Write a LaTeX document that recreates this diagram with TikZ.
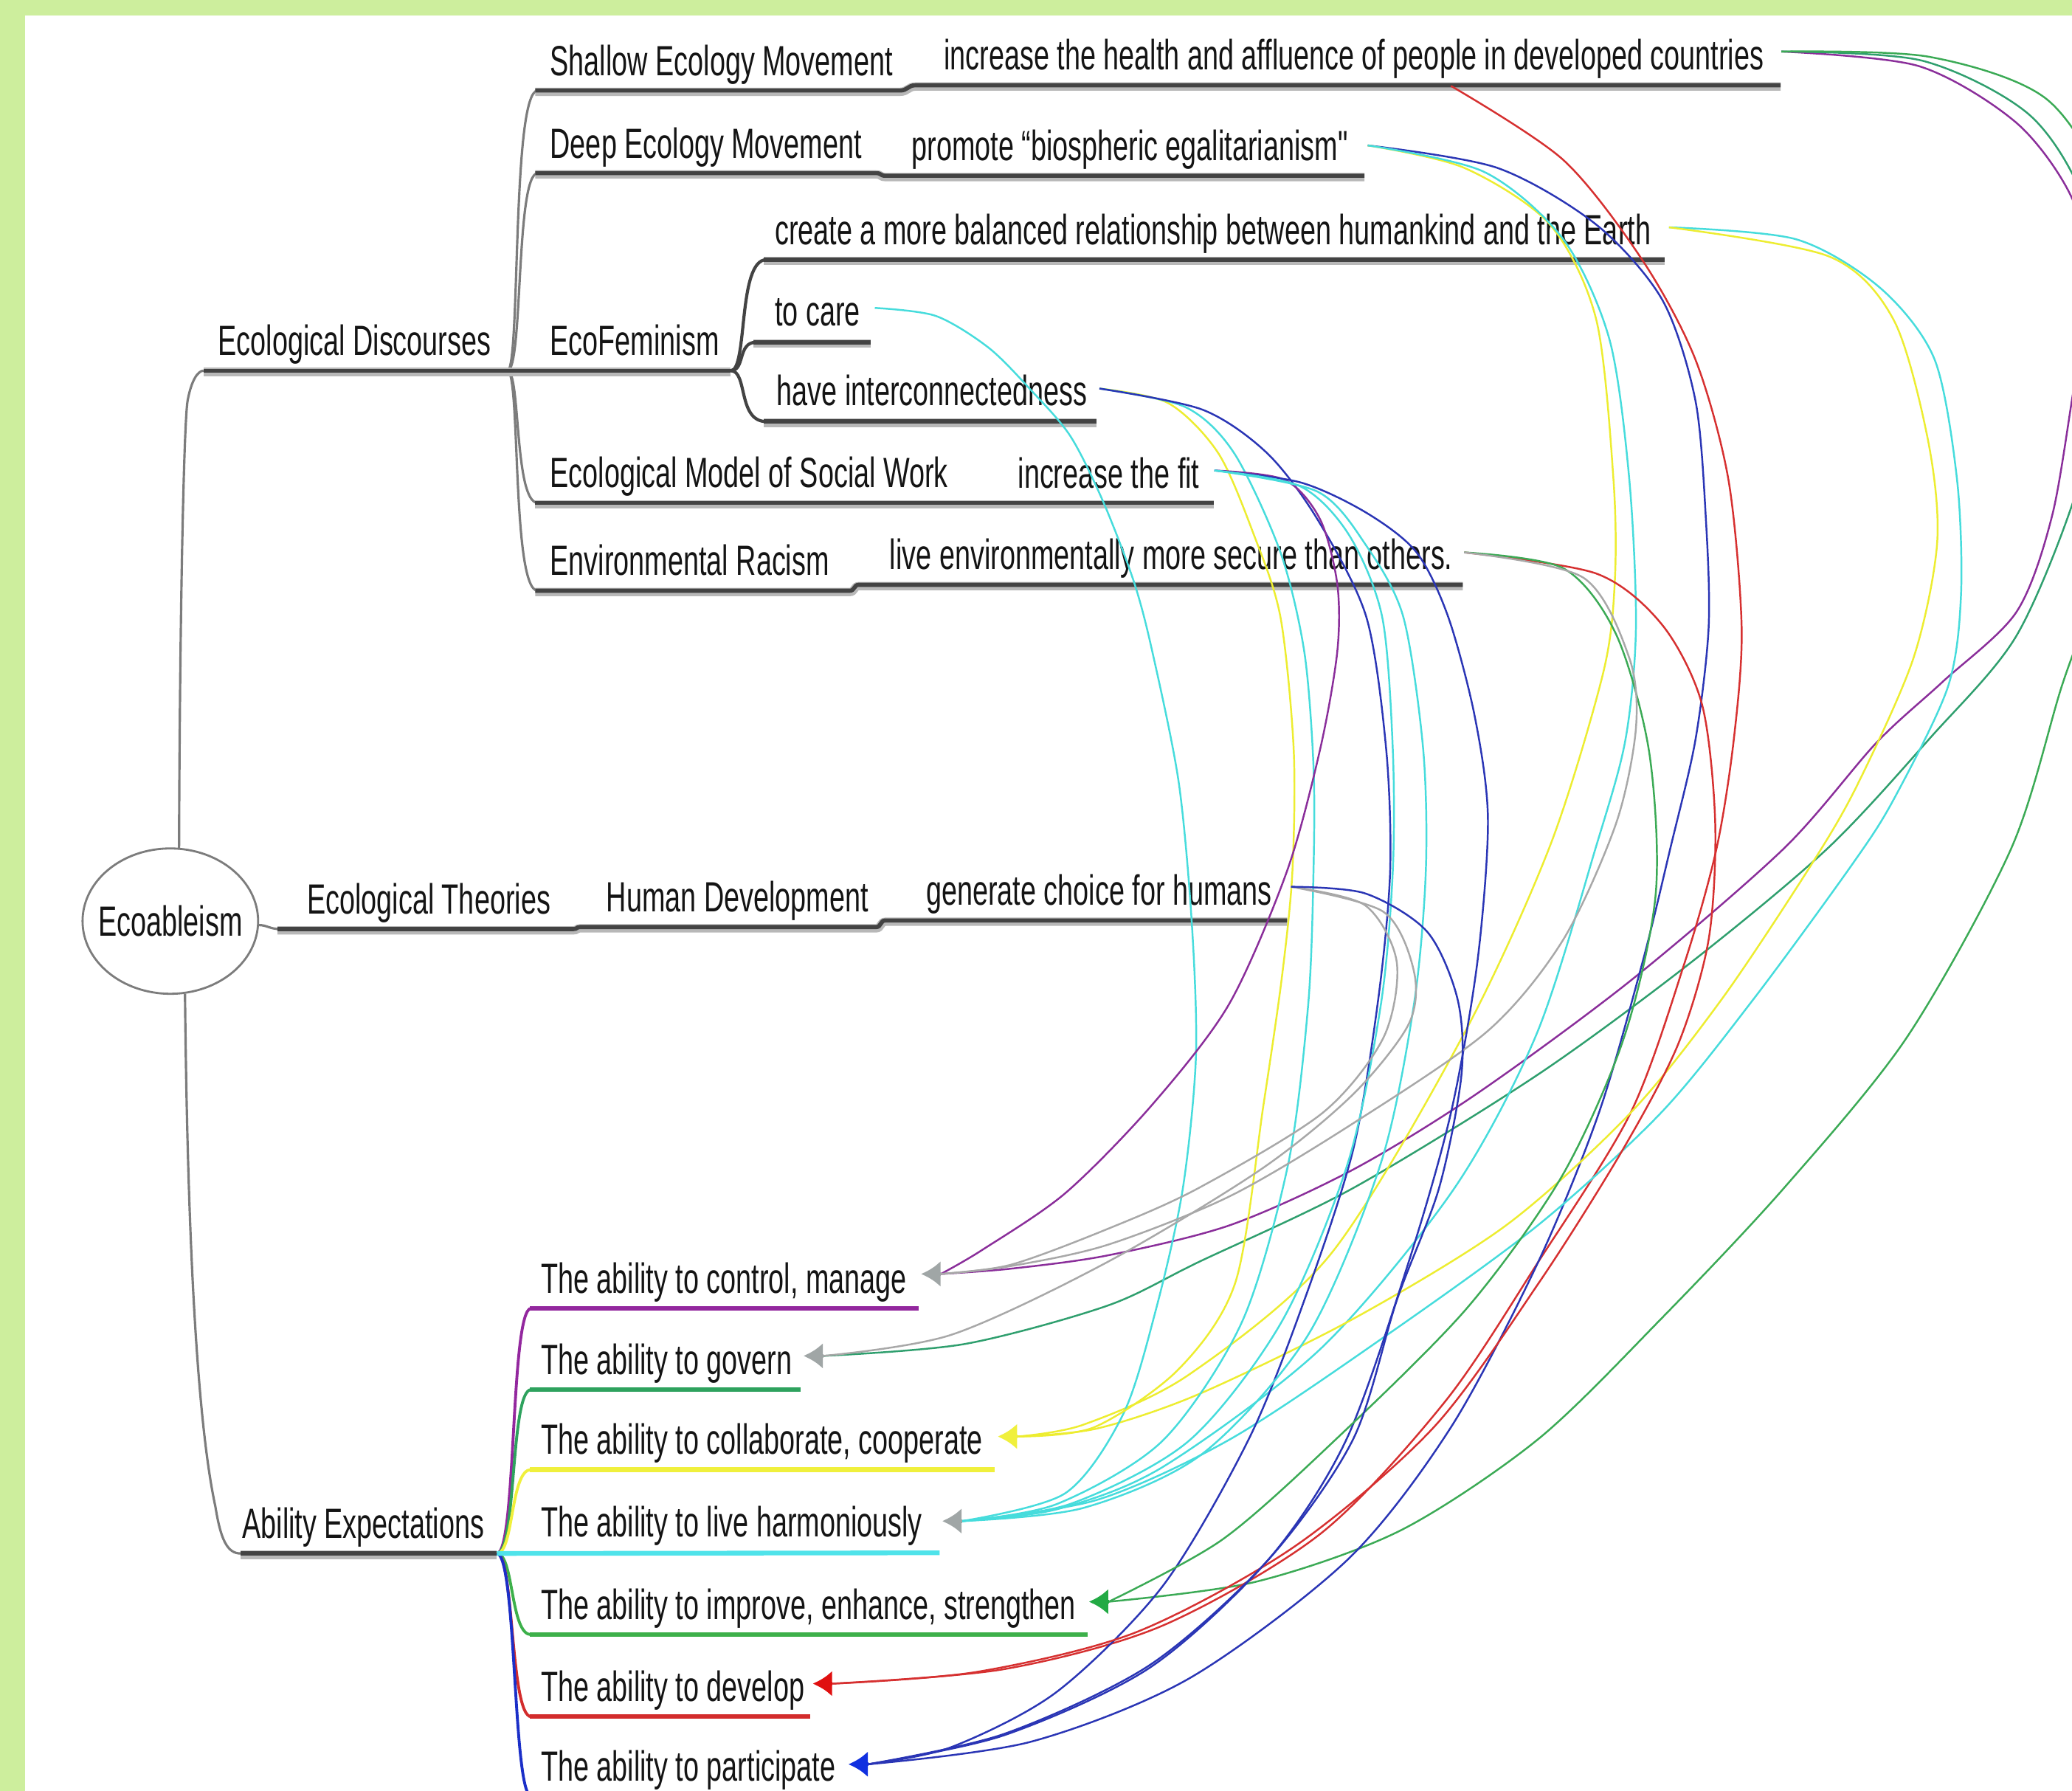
\documentclass[tikz,border=0pt]{standalone}
\usepackage{fontspec}
\setmainfont{Liberation Sans}[FakeStretch=0.66, Ligatures=TeXOff]
\usetikzlibrary{arrows.meta,shapes.geometric}
\definecolor{bggreen}{HTML}{CDEE9D}
\definecolor{ulDark}{HTML}{434343}
\definecolor{connGray}{HTML}{7C7C7C}
\definecolor{cPurple}{HTML}{93279E}
\definecolor{cGovG}{HTML}{2EA25E}
\definecolor{cYellow}{HTML}{F0F03C}
\definecolor{cCyan}{HTML}{4FE3EA}
\definecolor{cImpG}{HTML}{3DB04A}
\definecolor{cRed}{HTML}{D32C2C}
\definecolor{cBlue}{HTML}{1B2FC8}
\definecolor{rPurple}{HTML}{8A2E9A}
\definecolor{rGreenA}{HTML}{2F9F6E}
\definecolor{rGreenB}{HTML}{3BAA55}
\definecolor{rRed}{HTML}{D63030}
\definecolor{rBlue}{HTML}{2A35B5}
\definecolor{rCyan}{HTML}{46DCDC}
\definecolor{rYellow}{HTML}{EDED30}
\definecolor{rGray}{HTML}{A8A8A8}
\definecolor{tipGray}{HTML}{A0A6A6}
\definecolor{tipGreen}{HTML}{22AA44}
\definecolor{tipRed}{HTML}{E01010}
\definecolor{tipBlue}{HTML}{1030E0}
\begin{document}
\begin{tikzpicture}[x=0.0179082cm,y=-0.0179082cm,
  lbl/.style={anchor=base west, inner sep=0pt, font=\fontsize{16.3}{19}\selectfont, text=black!92},
  conn/.style={draw=connGray, line width=0.9pt},
  brace/.style={draw=ulDark, line width=1.2pt},
  uline/.style={draw=ulDark, line width=1.6pt, preaction={draw=black!28, line width=3.2pt, transform canvas={yshift=-0.5pt}}},
  cline/.style={line width=1.8pt},
  fan/.style={line width=1.1pt},
  rel/.style={line width=0.7pt, smooth, tension=0.5},
  tipA/.style={-{Latex[length=7.5pt,width=10pt]}, line width=1.5pt}]
\useasboundingbox (0,0) rectangle (1568,1355);
\clip (0,0) rectangle (1568,1355);
\fill[white] (0,0) rectangle (1568,1355);
\fill[bggreen] (0,0) rectangle (1568,12);
\fill[bggreen] (0,0) rectangle (19,1355);

% ---------- central node ----------
\node[ellipse, draw=connGray, line width=0.8pt, fill=white, minimum width=2.38cm, minimum height=1.97cm, inner sep=0pt] (nEco) at (128.9,697) {};
\node[inner sep=0pt, font=\fontsize{16.3}{19}\selectfont, text=black!92] (nEcoTxt) at (nEco.center) {Ecoableism};

% ---------- tree coordinates ----------
\coordinate (ecoTop) at (135.5,642);
\coordinate (ecoBot) at (140,752);
\coordinate (ecoRight) at (196,700);
\coordinate (edL) at (154,280.5);
\coordinate (edR) at (384,280.5);
\coordinate (efR) at (553,280.5);
\coordinate (aeL) at (182,1175.5);
\coordinate (aeR) at (376,1175.5);

% ---------- tree connectors ----------
\draw[conn] (ecoTop) .. controls (136,475) and (139,320) .. (142,303) .. controls (145,287) and (150,280.5) .. (edL);
\draw[conn] (ecoBot) .. controls (142,950) and (150,1080) .. (163,1140) .. controls (167,1165) and (172,1175.5) .. (aeL);
\draw[conn] (ecoRight) .. controls (202,700) and (204,703) .. (212,703);
% fan of Ecological Discourses
\draw[conn] (edR) .. controls (394,280.5) and (387,68.5) .. (407,68.5);
\draw[conn] (edR) .. controls (396,280.5) and (390,131) .. (407,131);
\draw[conn] (edR) .. controls (394,280.5) and (389,380.5) .. (407,380.5);
\draw[conn] (edR) .. controls (394,280.5) and (387,447) .. (407,447);
% brace of EcoFeminism
\draw[brace] (efR) .. controls (566,280.5) and (558,196.5) .. (580,196.5);
\draw[brace] (efR) .. controls (564,280.5) and (558,259) .. (572,259);
\draw[brace] (efR) .. controls (566,280.5) and (558,319) .. (580,319);

% ---------- underlines ----------
\draw[uline] (edL) -- (efR);
\draw[uline] (405,68.5) -- (681,68.5) .. controls (687,68.5) and (687,64.5) .. (693,64.5) -- (1347.5,64.5);
\draw[uline] (405,131) -- (663,131) .. controls (667,131) and (666,133) .. (670,133) -- (1032.5,133);
\draw[uline] (405,380.5) -- (918.5,380.5);
\draw[uline] (405,447) -- (643,447) .. controls (647,447) and (646,442.5) .. (650,442.5) -- (1107,442.5);
\draw[uline] (578,196.5) -- (1260,196.5);
\draw[uline] (570,259) -- (659,259);
\draw[uline] (578,319) -- (830,319);
\draw[uline] (210,703) -- (434,703) .. controls (437,703) and (436,701.5) .. (439,701.5) -- (663,701.5) .. controls (667,701.5) and (666,696.5) .. (670,696.5) -- (974,696.5);
\draw[uline] (aeL) -- (aeR);

% ---------- labels ----------
\node[lbl] (nED) at (164.7,269) {Ecological Discourses};
\node[lbl] (nSEM) at (416,57) {Shallow Ecology Movement};
\node[lbl] (nDEM) at (416,119.5) {Deep Ecology Movement};
\node[lbl] (nEF) at (416,269) {EcoFeminism};
\node[lbl] (nEMSW) at (416,369) {Ecological Model of Social Work};
\node[lbl] (nER) at (416,435.5) {Environmental Racism};
\node[lbl] (nHealth) at (714,53) {increase the health and affluence of people in developed countries};
\node[lbl] (nPromote) at (689.5,121.5) {promote “biospheric egalitarianism"};
\node[lbl] (nCreate) at (586,185) {create a more balanced relationship between humankind and the Earth};
\node[lbl] (nCare) at (586,246.5) {to care};
\node[lbl] (nInter) at (587.5,307) {have interconnectedness};
\node[lbl] (nFit) at (770,369.5) {increase the fit};
\node[lbl] (nEnv) at (673,431) {live environmentally more secure than others.};
\node[lbl] (nET) at (232,691.5) {Ecological Theories};
\node[lbl] (nHD) at (458.6,690) {Human Development};
\node[lbl] (nGen) at (700.5,685) {generate choice for humans};
\node[lbl] (nAE) at (183,1164) {Ability Expectations};
\node[lbl] (nCtl) at (409,978.5) {The ability to control, manage};
\node[lbl] (nGov) at (409,1040) {The ability to govern};
\node[lbl] (nCol) at (409,1100.5) {The ability to collaborate, cooperate};
\node[lbl] (nHar) at (409,1163) {The ability to live harmoniously};
\node[lbl] (nImp) at (409,1225.5) {The ability to improve, enhance, strengthen};
\node[lbl] (nDev) at (409,1287.5) {The ability to develop};
\node[lbl] (nPar) at (409,1347.5) {The ability to participate};

% ---------- ability fan and coloured underlines ----------
\draw[fan, cPurple] (aeR) .. controls (391,1175.5) and (386,990) .. (402,990);
\draw[fan, cGovG] (aeR) .. controls (391,1175.5) and (386,1051.5) .. (402,1051.5);
\draw[fan, cYellow] (aeR) .. controls (389,1175.5) and (386,1112) .. (402,1112);
\draw[fan, cImpG] (aeR) .. controls (389,1175.5) and (386,1237) .. (402,1237);
\draw[fan, cRed] (aeR) .. controls (389,1175.5) and (386,1299) .. (402,1299);
\draw[fan, cBlue] (aeR) .. controls (391,1175.5) and (388,1359) .. (402,1359);
\draw[cline, cPurple] (401,990) -- (695,990);
\draw[cline, cGovG] (401,1051.5) -- (606,1051.5);
\draw[cline, cYellow] (401,1112) -- (753,1112);
\draw[cline, cCyan] (aeR) -- (711,1175);
\draw[cline, cImpG] (401,1237) -- (823,1237);
\draw[cline, cRed] (401,1299) -- (613,1299);
\draw[cline, cBlue] (401,1359) -- (640,1359);

% ---------- relationship end points ----------
\coordinate (sHealth) at (1348,39);
\coordinate (sHealthU) at (1098,65);
\coordinate (sPromote) at (1035,110);
\coordinate (sCreate) at (1263,172);
\coordinate (sCare) at (662,233);
\coordinate (sInter) at (832,294);
\coordinate (sFit) at (919,356);
\coordinate (sEnv) at (1108,418);
\coordinate (sGen) at (977,671);
\coordinate (tCtl) at (697,964);   \coordinate (bCtl) at (712,964);
\coordinate (tGov) at (608,1026);  \coordinate (bGov) at (623,1026);
\coordinate (tCol) at (755,1087);  \coordinate (bCol) at (770,1087);
\coordinate (tHar) at (713,1151);  \coordinate (bHar) at (728,1151);
\coordinate (tImp) at (824,1212);  \coordinate (bImp) at (839,1212);
\coordinate (tDev) at (615,1274);  \coordinate (bDev) at (630,1274);
\coordinate (tPar) at (642,1335);  \coordinate (bPar) at (657,1335);

% ---------- relationships ----------
% from "increase the health ..."
\draw[rel, rPurple] plot coordinates {(sHealth) (1452,50) (1526,93) (1568,150) (1583,218) (1570,290) (1553,390) (1526,463) (1470,516) (1420,562) (1350,642) (1234,742) (1117,828) (1024,885) (931,927) (838,950) (765,960) (bCtl)};
\draw[rel, rGreenA] plot coordinates {(sHealth) (1455,46) (1537,88) (1580,160) (1592,270) (1572,370) (1526,481) (1461,558) (1383,642) (1280,728) (1164,813) (1024,899) (907,955) (838,988) (730,1017) (bGov)};
\draw[rel, rGreenB] plot coordinates {(sHealth) (1460,43) (1550,76) (1598,160) (1610,300) (1590,430) (1560,520) (1522,642) (1443,785) (1350,899) (1257,998) (1164,1089) (1060,1158) (950,1197) (bImp)};
\draw[rel, rRed] plot coordinates {(sHealthU) (1183,121) (1243,197) (1283,272) (1308,363) (1318,475) (1312,560) (1299,642) (1275,728) (1234,842) (1164,955) (1094,1060) (1000,1160) (880,1230) (760,1263) (bDev)};
% from "promote ..."
\draw[rel, rBlue] plot coordinates {(sPromote) (1133,127) (1208,170) (1258,227) (1283,303) (1291,394) (1293,475) (1283,560) (1264,642) (1243,728) (1210,842) (1164,955) (1098,1080) (1020,1180) (900,1270) (780,1318) (bPar)};
\draw[rel, rYellow] plot coordinates {(sPromote) (1108,127) (1173,170) (1208,242) (1221,363) (1222,440) (1213,510) (1173,640) (1108,782) (1007,949) (900,1040) (820,1078) (bCol)};
\draw[rel, rCyan] plot coordinates {(sPromote) (1123,130) (1183,181) (1218,257) (1233,363) (1238,475) (1230,560) (1208,640) (1163,782) (1100,900) (1000,1020) (880,1110) (800,1142) (bHar)};
% from "create a more balanced ..."
\draw[rel, rCyan] plot coordinates {(sCreate) (1359,181) (1423,218) (1464,272) (1481,363) (1484,450) (1474,520) (1433,605) (1401,655) (1327,756) (1257,842) (1164,927) (1047,1012) (931,1089) (830,1135) (bHar)};
\draw[rel, rYellow] plot coordinates {(sCreate) (1384,194) (1433,242) (1459,333) (1466,410) (1448,498) (1405,595) (1369,657) (1303,756) (1234,842) (1140,927) (1024,998) (907,1055) (830,1081) (bCol)};
% from "to care"
\draw[rel, rCyan] plot coordinates {(sCare) (708,239) (748,263) (780,295) (810,330) (835,380) (858,440) (872,493) (892,592) (902,700) (905,800) (895,900) (875,990) (850,1070) (806,1130) (bHar)};
% from "have interconnectedness"
\draw[rel, rYellow] plot coordinates {(sInter) (884,305) (922,343) (949,405) (969,467) (979,567) (978,660) (970,740) (956,837) (935,970) (892,1036) (828,1080) (bCol)};
\draw[rel, rCyan] plot coordinates {(sInter) (897,308) (934,343) (969,418) (987,493) (994,580) (994,659) (990,760) (975,880) (940,1000) (880,1090) (800,1138) (bHar)};
\draw[rel, rBlue] plot coordinates {(sInter) (910,310) (959,343) (997,393) (1034,467) (1049,567) (1052,659) (1043,756) (1024,870) (987,984) (945,1089) (880,1200) (800,1280) (720,1322) (bPar)};
% from "increase the fit"
\draw[rel, rPurple] plot coordinates {(sFit) (972,363) (999,393) (1012,442) (1012,493) (999,567) (974,659) (930,760) (871,837) (806,903) (743,946) (bCtl)};
\draw[rel, rBlue] plot coordinates {(sFit) (984,365) (1034,388) (1072,418) (1096,467) (1116,542) (1126,620) (1118,728) (1098,842) (1066,955) (1019,1089) (960,1180) (870,1262) (760,1313) (bPar)};
\draw[rel, rCyan] plot coordinates {(sFit) (984,368) (1021,405) (1046,467) (1054,567) (1054,659) (1045,760) (1020,880) (970,1000) (900,1090) (810,1138) (bHar)};
\draw[rel, rCyan] plot coordinates {(sFit) (997,372) (1034,413) (1062,467) (1077,567) (1079,659) (1070,760) (1045,880) (990,1010) (910,1100) (820,1141) (bHar)};
% from "live environmentally ..."
\draw[rel, rRed] plot coordinates {(sEnv) (1208,434) (1258,473) (1288,533) (1298,623) (1293,711) (1270,790) (1228,870) (1165,970) (1085,1080) (980,1170) (860,1235) (740,1265) (bDev)};
\draw[rel, rGreenB] plot coordinates {(sEnv) (1183,430) (1223,480) (1248,569) (1253,676) (1229,785) (1182,890) (1110,990) (1010,1090) (925,1165) (bImp)};
\draw[rel, rGray] plot coordinates {(sEnv) (1198,437) (1233,498) (1238,551) (1223,623) (1183,711) (1126,780) (1024,850) (931,905) (838,942) (765,958) (bCtl)};
% from "generate choice for humans"
\draw[rel, rGray] plot coordinates {(sGen) (1033,685) (1057,728) (1047,785) (1001,842) (907,899) (838,930) (765,957) (bCtl)};
\draw[rel, rGray] plot coordinates {(sGen) (1047,690) (1070,735) (1066,775) (1024,828) (954,885) (838,955) (720,1010) (bGov)};
\draw[rel, rBlue] plot coordinates {(sGen) (1033,676) (1080,705) (1103,756) (1106,813) (1089,899) (1057,984) (1024,1089) (960,1180) (870,1260) (760,1312) (bPar)};

% ---------- arrow heads ----------
\draw[tipA, tipGray] (bCtl) -- (tCtl);
\draw[tipA, tipGray] (bGov) -- (tGov);
\draw[tipA, cYellow] (bCol) -- (tCol);
\draw[tipA, tipGray] (bHar) -- (tHar);
\draw[tipA, tipGreen] (bImp) -- (tImp);
\draw[tipA, tipRed] (bDev) -- (tDev);
\draw[tipA, tipBlue] (bPar) -- (tPar);
\end{tikzpicture}
\end{document}
